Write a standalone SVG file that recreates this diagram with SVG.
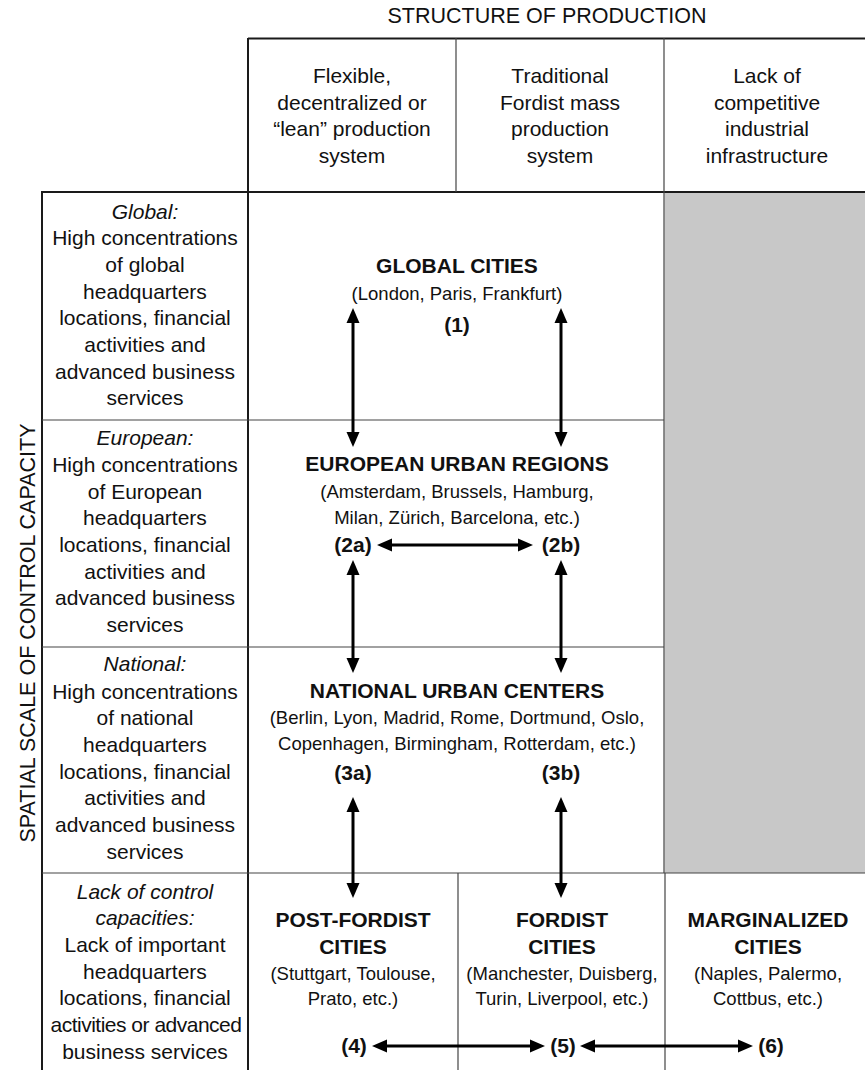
<svg xmlns="http://www.w3.org/2000/svg" width="865" height="1070" viewBox="0 0 865 1070">
<style>
text{font-family:"Liberation Sans",Arial,sans-serif;fill:#111;text-anchor:middle}
.t{font-size:21px}
.ti{font-size:21px;font-style:italic}
.b{font-size:21px;font-weight:bold}
.s{font-size:18.5px}
.title{font-size:21.5px}
.thick{stroke:#1a1a1a;stroke-width:2;fill:none}
.thin{stroke:#444;stroke-width:1.2;fill:none}
.arr{stroke:#000;stroke-width:3;fill:none;marker-start:url(#ah);marker-end:url(#ah)}
</style>
<defs>
<marker id="ah" markerUnits="userSpaceOnUse" markerWidth="16" markerHeight="14" refX="5" refY="6.5" orient="auto-start-reverse" viewBox="0 0 16 13">
<path d="M0,0 L15,6.5 L0,13 Z" fill="#000"/>
</marker>
</defs>
<rect width="865" height="1070" fill="#fff"/>

<g id="titles">
<text class="title" x="547" y="23">STRUCTURE OF PRODUCTION</text>
<text class="title" transform="translate(34.5,633) rotate(-90)">SPATIAL SCALE OF CONTROL CAPACITY</text>
</g>

<g id="grid">
<rect x="664.5" y="192" width="201" height="681" fill="#c8c8c8"/>
<line class="thick" x1="248" y1="38.5" x2="865" y2="38.5"/>
<line class="thick" x1="42" y1="192" x2="865" y2="192"/>
<line class="thick" x1="248" y1="38" x2="248" y2="1070"/>
<line class="thick" x1="42" y1="191" x2="42" y2="1070"/>
<line class="thin" x1="456" y1="38" x2="456" y2="192"/>
<line class="thin" x1="664" y1="38" x2="664" y2="873"/>
<line class="thin" x1="42" y1="420" x2="664" y2="420"/>
<line class="thin" x1="42" y1="647" x2="664" y2="647"/>
<line class="thin" x1="42" y1="873" x2="865" y2="873"/>
<line class="thin" x1="458" y1="873" x2="458" y2="1070"/>
<line class="thin" x1="665" y1="873" x2="665" y2="1070"/>
</g>

<g id="header-flexible">
<text class="t" x="352" y="83">Flexible,</text>
<text class="t" x="352" y="110">decentralized or</text>
<text class="t" x="352" y="136">&#8220;lean&#8221; production</text>
<text class="t" x="352" y="163">system</text>
</g>
<g id="header-fordist">
<text class="t" x="560" y="83">Traditional</text>
<text class="t" x="560" y="110">Fordist mass</text>
<text class="t" x="560" y="136">production</text>
<text class="t" x="560" y="163">system</text>
</g>
<g id="header-lack">
<text class="t" x="767" y="83">Lack of</text>
<text class="t" x="767" y="110">competitive</text>
<text class="t" x="767" y="136">industrial</text>
<text class="t" x="767" y="163">infrastructure</text>
</g>

<g id="row-global">
<text class="ti" x="145" y="219">Global:</text>
<text class="t" x="145" y="245">High concentrations</text>
<text class="t" x="145" y="272">of global</text>
<text class="t" x="145" y="299">headquarters</text>
<text class="t" x="145" y="325">locations, financial</text>
<text class="t" x="145" y="352">activities and</text>
<text class="t" x="145" y="379">advanced business</text>
<text class="t" x="145" y="405">services</text>
</g>
<g id="row-european">
<text class="ti" x="145" y="445">European:</text>
<text class="t" x="145" y="472">High concentrations</text>
<text class="t" x="145" y="499">of European</text>
<text class="t" x="145" y="525">headquarters</text>
<text class="t" x="145" y="552">locations, financial</text>
<text class="t" x="145" y="579">activities and</text>
<text class="t" x="145" y="605">advanced business</text>
<text class="t" x="145" y="632">services</text>
</g>
<g id="row-national">
<text class="ti" x="145" y="671">National:</text>
<text class="t" x="145" y="699">High concentrations</text>
<text class="t" x="145" y="725">of national</text>
<text class="t" x="145" y="752">headquarters</text>
<text class="t" x="145" y="779">locations, financial</text>
<text class="t" x="145" y="805">activities and</text>
<text class="t" x="145" y="832">advanced business</text>
<text class="t" x="145" y="859">services</text>
</g>
<g id="row-lack">
<text class="ti" x="145" y="899">Lack of control</text>
<text class="ti" x="145" y="925">capacities:</text>
<text class="t" x="145" y="952">Lack of important</text>
<text class="t" x="145" y="979">headquarters</text>
<text class="t" x="145" y="1005">locations, financial</text>
<text class="t" x="146" y="1032" letter-spacing="-0.5">activities or advanced</text>
<text class="t" x="145" y="1059">business services</text>
</g>

<g id="global-cities">
<text class="b" x="457" y="272.5">GLOBAL CITIES</text>
<text class="s" x="457" y="299.5">(London, Paris, Frankfurt)</text>
<text class="b" x="457" y="332">(1)</text>
</g>
<g id="european-urban-regions">
<text class="b" x="457" y="470.5">EUROPEAN URBAN REGIONS</text>
<text class="s" x="457" y="497.5">(Amsterdam, Brussels, Hamburg,</text>
<text class="s" x="457" y="523.5">Milan, Zürich, Barcelona, etc.)</text>
<text class="b" x="353" y="552">(2a)</text>
<text class="b" x="561" y="552">(2b)</text>
</g>
<g id="national-urban-centers">
<text class="b" x="457" y="697.5">NATIONAL URBAN CENTERS</text>
<text class="s" x="457" y="723.5">(Berlin, Lyon, Madrid, Rome, Dortmund, Oslo,</text>
<text class="s" x="457" y="749.5">Copenhagen, Birmingham, Rotterdam, etc.)</text>
<text class="b" x="353" y="780">(3a)</text>
<text class="b" x="561" y="780">(3b)</text>
</g>
<g id="post-fordist-cities">
<text class="b" x="353" y="926.5">POST-FORDIST</text>
<text class="b" x="353" y="953.5">CITIES</text>
<text class="s" x="353" y="979.5">(Stuttgart, Toulouse,</text>
<text class="s" x="353" y="1004.5">Prato, etc.)</text>
<text class="b" x="354" y="1053">(4)</text>
</g>
<g id="fordist-cities">
<text class="b" x="562" y="926.5">FORDIST</text>
<text class="b" x="562" y="953.5">CITIES</text>
<text class="s" x="562" y="979.5">(Manchester, Duisberg,</text>
<text class="s" x="562" y="1004.5">Turin, Liverpool, etc.)</text>
<text class="b" x="563" y="1053">(5)</text>
</g>
<g id="marginalized-cities">
<text class="b" x="768" y="926.5">MARGINALIZED</text>
<text class="b" x="768" y="953.5">CITIES</text>
<text class="s" x="768" y="979.5">(Naples, Palermo,</text>
<text class="s" x="768" y="1004.5">Cottbus, etc.)</text>
<text class="b" x="771" y="1053">(6)</text>
</g>

<g id="connectors">
<line class="arr" x1="353" y1="318" x2="353" y2="437"/>
<line class="arr" x1="561" y1="318" x2="561" y2="437"/>
<line class="arr" x1="387" y1="545" x2="523" y2="545"/>
<line class="arr" x1="353" y1="570" x2="353" y2="663"/>
<line class="arr" x1="561" y1="570" x2="561" y2="663"/>
<line class="arr" x1="353" y1="807" x2="353" y2="888"/>
<line class="arr" x1="561" y1="807" x2="561" y2="888"/>
<line class="arr" x1="382" y1="1046" x2="535" y2="1046"/>
<line class="arr" x1="590" y1="1046" x2="743" y2="1046"/>
</g>
</svg>
